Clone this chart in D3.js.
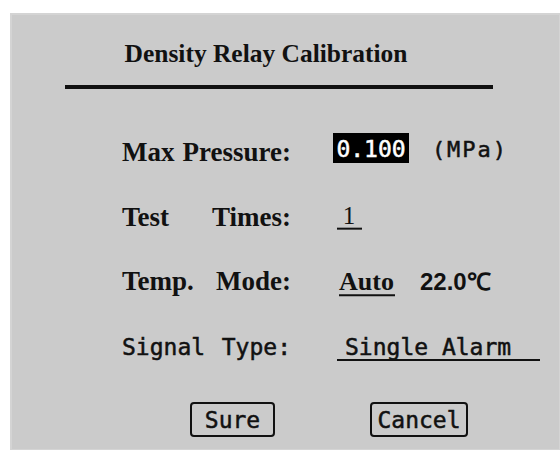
<!DOCTYPE html>
<html>
<head>
<meta charset="utf-8">
<script src="https://cdn.jsdelivr.net/npm/d3@7"></script>
<style>
  html, body { margin: 0; padding: 0; background: #fff; }
  svg { display: block; }
</style>
</head>
<body>
<svg id="panel"></svg>
<script>
// screen content
const titleText = 'Density Relay Calibration';
const rowLabels = ['Max Pressure:', 'Test Times:', 'Temp. Mode:', 'Signal Type:'];
const rowValues = ['0.100', '1', 'Auto', 'Single Alarm'];
const rowExtras = ['(MPa)', '', '22.0\u2103', ''];
const buttonLabels = ['Sure', 'Cancel'];

const svg = d3.select('svg#panel'),
    svgWidth = 560,
    svgHeight = 450;
svg.attr('width', svgWidth).attr('height', svgHeight);

const bgColor = '#cbcbcb',
    inkColor = '#111',
    serif = "'Liberation Serif', 'DejaVu Serif', serif",
    mono = "'DejaVu Sans Mono', 'Liberation Mono', monospace",
    monoStroke = 0.5,
    labelLeft = 122,
    labelRight = 291,
    valueLeft = 337;

// gray panel
svg.append('rect')
    .attr('x', 11).attr('y', 14)
    .attr('width', svgWidth - 11).attr('height', svgHeight - 14)
    .attr('fill', bgColor)
    .attr('stroke', '#d4d4d4').attr('stroke-width', 2);

// title, fitted to its width on screen
const title = svg.append('text')
    .text(titleText)
    .attr('x', 266).attr('y', 62)
    .attr('text-anchor', 'middle')
    .attr('font-family', serif).attr('font-weight', 'bold')
    .attr('font-size', 26)
    .attr('fill', inkColor);
fitWidth(title, 283, 26);

svg.append('line')
    .attr('x1', 65).attr('x2', 493)
    .attr('y1', 87).attr('y2', 87)
    .attr('stroke', inkColor).attr('stroke-width', 4);

// rows
const y = d3.scalePoint()
    .domain(rowLabels)
    .range([161, 355]);

rowLabels.forEach(function (label, i) {
    const isMono = i === 3;
    const font = isMono ? mono : serif;
    const weight = isMono ? 'normal' : 'bold';
    const size = isMono ? 23 : 27;
    const words = label.split(' ');
    const yy = y(label);

    [words[0], words.slice(1).join(' ')].forEach(function (part, j) {
        const t = svg.append('text').text(part)
            .attr('x', j === 0 ? labelLeft : labelRight).attr('y', yy)
            .attr('text-anchor', j === 0 ? 'start' : 'end')
            .attr('font-family', font).attr('font-weight', weight)
            .attr('font-size', size)
            .attr('fill', inkColor);
        if (isMono) t.attr('stroke', inkColor).attr('stroke-width', monoStroke);
    });
});

// Max Pressure: highlighted field
{
    const yy = y(rowLabels[0]);
    svg.append('rect')
        .attr('x', 333).attr('y', yy - 28)
        .attr('width', 76).attr('height', 30)
        .attr('fill', '#000');
    svg.append('text').text(rowValues[0])
        .attr('x', 371).attr('y', yy - 4)
        .attr('text-anchor', 'middle')
        .attr('font-family', mono).attr('font-size', 23)
        .attr('fill', '#fff')
        .attr('stroke', '#fff').attr('stroke-width', monoStroke);
    svg.append('text').text(rowExtras[0])
        .attr('x', 470).attr('y', yy - 4)
        .attr('text-anchor', 'middle')
        .attr('font-family', mono).attr('font-size', 22)
        .attr('letter-spacing', 2)
        .attr('fill', inkColor)
        .attr('stroke', inkColor).attr('stroke-width', monoStroke);
}

// Test Times
{
    const yy = y(rowLabels[1]);
    svg.append('text').text(rowValues[1])
        .attr('x', 349).attr('y', yy - 2)
        .attr('text-anchor', 'middle')
        .attr('font-family', serif).attr('font-size', 25)
        .attr('fill', inkColor);
    svg.append('line')
        .attr('x1', 337).attr('x2', 362)
        .attr('y1', yy + 3).attr('y2', yy + 3)
        .attr('stroke', inkColor).attr('stroke-width', 2);
}

// Temp. Mode
{
    const yy = y(rowLabels[2]);
    svg.append('text').text(rowValues[2])
        .attr('x', valueLeft + 2).attr('y', yy)
        .attr('font-family', serif).attr('font-weight', 'bold')
        .attr('font-size', 26)
        .attr('fill', inkColor);
    svg.append('line')
        .attr('x1', 339).attr('x2', 395)
        .attr('y1', yy + 5).attr('y2', yy + 5)
        .attr('stroke', inkColor).attr('stroke-width', 2);
    svg.append('text').text(rowExtras[2])
        .attr('x', 420).attr('y', yy)
        .attr('font-family', "'Liberation Sans', sans-serif").attr('font-weight', 'bold')
        .attr('font-size', 24)
        .attr('fill', inkColor);
}

// Signal Type
{
    const yy = y(rowLabels[3]);
    svg.append('text').text(rowValues[3])
        .attr('x', 345).attr('y', yy)
        .attr('font-family', mono).attr('font-size', 23)
        .attr('fill', inkColor)
        .attr('stroke', inkColor).attr('stroke-width', monoStroke);
    svg.append('line')
        .attr('x1', 337).attr('x2', 540)
        .attr('y1', yy + 5).attr('y2', yy + 5)
        .attr('stroke', inkColor).attr('stroke-width', 2);
}

// buttons
const bx = d3.scaleOrdinal()
    .domain(buttonLabels)
    .range([[191, 83], [371, 96]]);

buttonLabels.forEach(function (label) {
    const [x0, w] = bx(label);
    svg.append('rect')
        .attr('x', x0).attr('y', 403)
        .attr('width', w).attr('height', 33)
        .attr('rx', 3)
        .attr('fill', 'none')
        .attr('stroke', inkColor).attr('stroke-width', 2);
    svg.append('text').text(label)
        .attr('x', x0 + w / 2).attr('y', 428)
        .attr('text-anchor', 'middle')
        .attr('font-family', mono).attr('font-size', 23)
        .attr('fill', inkColor)
        .attr('stroke', inkColor).attr('stroke-width', monoStroke);
});

/**
 * Scale the font so the text spans the given width
 */
function fitWidth(sel, target, size) {
    const len = sel.node().getComputedTextLength();
    if (len > 0) sel.attr('font-size', size * target / len);
}
</script>
</body>
</html>
